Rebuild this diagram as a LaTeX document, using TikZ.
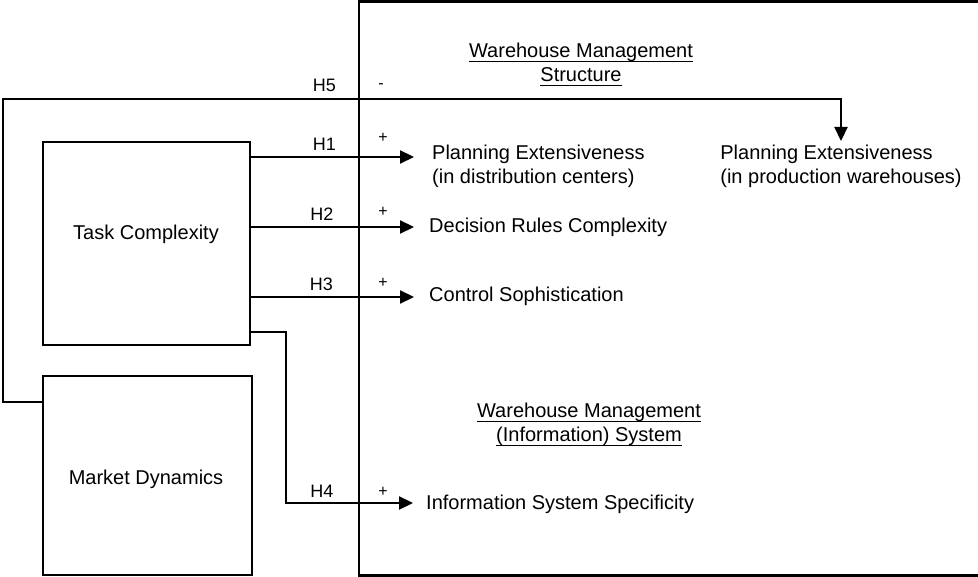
\documentclass[tikz,border=0pt]{standalone}
\usepackage{fontspec}
\setmainfont{Liberation Sans}
\usetikzlibrary{arrows.meta}
% underline set a fixed distance below the baseline, crossing descenders
\newsavebox\ulbox
\newcommand\headline[1]{\sbox\ulbox{#1}\rlap{\rule[-4.5pt]{\wd\ulbox}{1pt}}\usebox\ulbox}
\begin{document}
\begin{tikzpicture}[x=1pt,y=-1pt,
  box/.style={draw, line width=2.2pt, inner sep=0pt},
  txt/.style={inner sep=0pt, font=\fontsize{20}{24.5}\selectfont},
  hyp/.style={inner sep=0pt, font=\fontsize{18}{20}\selectfont},
  sgn/.style={inner sep=0pt, font=\fontsize{16}{18}\selectfont},
  frame/.style={line width=2.2pt},
  link/.style={line width=2.2pt, -{Triangle[length=14pt,width=13pt]}}]
\useasboundingbox (0,0) rectangle (978,577);

% frame of the warehouse side, open to the right
\draw[frame] (990,1.5) -- (359,1.5) -- (359,575.5) -- (990,575.5);

% antecedents
\node[box, minimum width=207pt, minimum height=203pt] (tc) at (146.5,243.5) {};
\node[box, minimum width=209pt, minimum height=199pt] (md) at (147.5,475.5) {};
\node[txt, anchor=base] (tclbl) at (146,240) {Task Complexity};
\node[txt, anchor=base] (mdlbl) at (146,484) {Market Dynamics};

% section headings
\node[txt, anchor=north, align=center] (wms) at (581,42.5)
  {\headline{Warehouse Management}\\\headline{Structure}};
\node[txt, anchor=north, align=center] (wmis) at (589,402.5)
  {\headline{Warehouse Management}\\\headline{(Information) System}};

% outcomes
\node[txt, anchor=north west, align=left] (pe1) at (432,144.5)
  {Planning Extensiveness\\(in distribution centers)};
\node[txt, anchor=north, align=left] (pe2) at (841,144.5)
  {Planning Extensiveness\\(in production warehouses)};
\node[txt, anchor=base west] (drc) at (429,233) {Decision Rules Complexity};
\node[txt, anchor=base west] (cs) at (429,302) {Control Sophistication};
\node[txt, anchor=base west] (iss) at (426,509) {Information System Specificity};

% arrow tips in front of the outcome texts
\coordinate (t1) at ([xshift=-18pt,yshift=-12.5pt]pe1.north west);
\coordinate (t2) at ([xshift=-15pt,yshift=6pt]drc.base west);
\coordinate (t3) at ([xshift=-15pt,yshift=5pt]cs.base west);
\coordinate (t4) at ([xshift=-13pt,yshift=6pt]iss.base west);
\coordinate (h4bend) at ([xshift=35pt]tc.east);
\coordinate (h5start) at ([yshift=-27pt]md.north west);
\coordinate (h5corner) at (3,99);

% hypotheses
\draw[link] (tc.east |- t1) -- (t1);
\draw[link] (tc.east |- t2) -- (t2);
\draw[link] (tc.east |- t3) -- (t3);
\draw[link] ([yshift=14pt]tc.south east) -| (h4bend |- t4) -- (t4);
\draw[link, shorten >=3.5pt] (h5start) -| (h5corner) -| (pe2.north);

% hypothesis labels and signs
\node[hyp, anchor=base] (lh5) at (324.5,92) {H5};
\node[hyp, anchor=base] (lh1) at (324.5,151) {H1};
\node[hyp, anchor=base] (lh2) at (322,221) {H2};
\node[hyp, anchor=base] (lh3) at (321.5,291) {H3};
\node[hyp, anchor=base] (lh4) at (322,497) {H4};
\node[sgn, anchor=base] (s5) at (381,89) {-};
\node[sgn, anchor=base] (s1) at (383,143) {+};
\node[sgn, anchor=base] (s2) at (383,217) {+};
\node[sgn, anchor=base] (s3) at (383,288) {+};
\node[sgn, anchor=base] (s4) at (383,496) {+};
\end{tikzpicture}
\end{document}
